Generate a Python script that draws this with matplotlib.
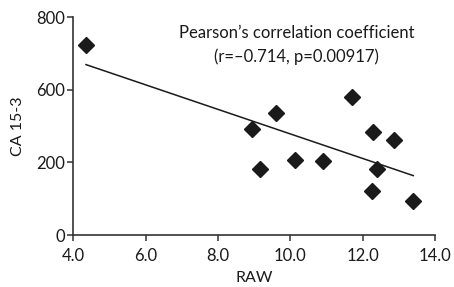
import matplotlib
matplotlib.use("Agg")
import matplotlib.pyplot as plt
import numpy as np

plt.rcParams['font.family'] = ['Lato', 'DejaVu Sans']

raw = np.array([4.35, 8.93, 9.16, 9.60, 10.13, 10.91, 11.70, 12.29, 12.27, 12.41, 12.88, 13.40])
ca153 = np.array([524, 291, 182, 337, 206, 205, 381, 285, 122, 183, 262, 94])

x_ticks = [4.0, 6.0, 8.0, 10.0, 12.0, 14.0]
x_ticklabels = ['4.0', '6.0', '8.0', '10.0', '12.0', '14.0']
y_ticks = [0, 200, 400, 600]
y_ticklabels = ['0', '200', '600', '800']

col = '#1a1a1a'
fig = plt.figure(figsize=(4.54, 2.87), dpi=100)
ax = fig.add_axes([0.1615, 0.181, 0.7965, 0.759])

ax.plot(raw, ca153, linestyle='none', marker='D', markersize=8.5, color=col, zorder=3)
k, b = np.polyfit(raw, ca153, 1)
xl = np.array([raw.min(), raw.max()])
ax.plot(xl, k * xl + b, color=col, lw=1.1)

ax.set_xlim(4.0, 14.0)
ax.set_ylim(0, 600)
ax.set_xticks(x_ticks)
ax.set_xticklabels(x_ticklabels)
ax.set_yticks(y_ticks)
ax.set_yticklabels(y_ticklabels)
for s in ['top', 'right']:
    ax.spines[s].set_visible(False)
for s in ['left', 'bottom']:
    ax.spines[s].set_color('#333333')
    ax.spines[s].set_linewidth(1.2)
ax.tick_params(axis='both', direction='out', length=4.5, width=1.1, colors='#333333',
               labelcolor=col, labelsize=12, pad=1.5)
ax.tick_params(axis='x', pad=4.5)
ax.set_xlabel('RAW', fontsize=11.5, color=col, labelpad=5.5)
ax.set_ylabel('CA 15-3', fontsize=11.5, color=col, labelpad=8)

ax.text(10.18, 578, "Pearson’s correlation coefficient\n(r=–0.714, p=0.00917)",
        ha='center', va='top', multialignment='center', fontsize=12, color=col, linespacing=1.5)

fig.savefig('out.png', dpi=100)
